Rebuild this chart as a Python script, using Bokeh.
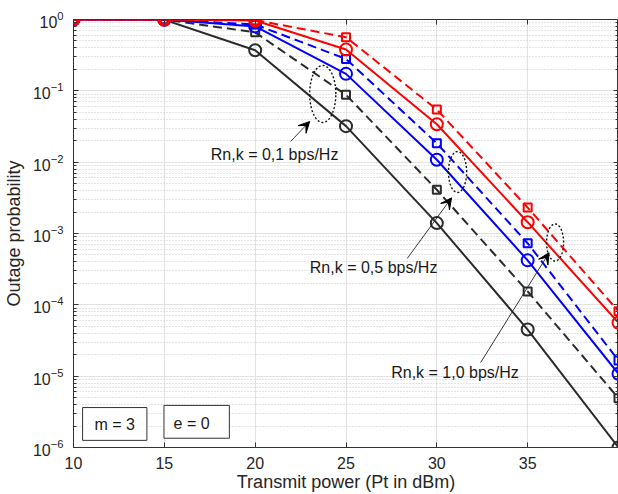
import numpy as np
from bokeh.plotting import figure
from bokeh.models import (Range1d, LinearAxis, LogAxis, FixedTicker, Arrow, VeeHead,
                          CustomJSTickFormatter)
from bokeh.embed import file_html
from bokeh.resources import INLINE
from bokeh.core.properties import value

# ---------------- data ----------------
power_dbm = [10, 15, 20, 25, 30, 35, 40]

# Rn,k = 0.1 bps/Hz (red)
red_circle = [1.0, 1.0, 0.97, 0.38, 0.034, 1.44e-3, 5.6e-5]
red_square = [1.0, 1.0, 0.98, 0.565, 0.0547, 2.31e-3, 8.1e-5]
# Rn,k = 0.5 bps/Hz (blue)
blue_circle = [1.0, 1.0, 0.80, 0.173, 0.0108, 4.2e-4, 1.08e-5]
blue_square = [1.0, 1.0, 0.85, 0.28, 0.0184, 7.3e-4, 1.66e-5]
# Rn,k = 1.0 bps/Hz (black)
black_circle = [1.0, 0.99, 0.37, 0.032, 1.4e-3, 4.5e-5, 1.0e-6]
black_square = [1.0, 1.0, 0.66, 0.088, 4.1e-3, 1.54e-4, 4.9e-6]

x_ticks = [10, 15, 20, 25, 30, 35, 40]
y_ticks = [1e-6, 1e-5, 1e-4, 1e-3, 1e-2, 1e-1, 1e0]
y_minor = [k * 10.0 ** e for e in range(-6, 0) for k in range(2, 10)]

annot_texts = ["Rn,k = 0,1 bps/Hz", "Rn,k = 0,5 bps/Hz", "Rn,k = 1,0 bps/Hz"]
box_texts = ["m = 3", "e = 0"]

FONT = "Liberation Sans"
AX = "#333333"
RED, BLUE, BLACK = "#ff0000", "#0000ff", "#2b2b2b"

p = figure(width=618, height=494,
           x_range=Range1d(10, 40), y_range=Range1d(1e-6, 1),
           y_axis_type="log", output_backend="svg", toolbar_location=None,
           min_border_left=71, min_border_top=19, min_border_right=0,
           min_border_bottom=0, background_fill_color="white",
           border_fill_color="white")

p.outline_line_color = AX
p.outline_line_width = 1

# axes
p.xaxis.ticker = FixedTicker(ticks=x_ticks)
p.xaxis.major_label_overrides = {40: ""}
p.yaxis.ticker = FixedTicker(ticks=y_ticks, minor_ticks=y_minor)
for ax in (p.xaxis[0], p.yaxis[0]):
    ax.axis_line_color = AX
    ax.major_tick_line_color = AX
    ax.minor_tick_line_color = AX
    ax.major_tick_in = 5
    ax.major_tick_out = 0
    ax.minor_tick_in = 3
    ax.minor_tick_out = 0
    ax.major_label_text_font = FONT
    ax.major_label_text_font_size = "16px"
    ax.major_label_text_color = "#262626"
    ax.axis_label_text_font = FONT
    ax.axis_label_text_font_size = "18px"
    ax.axis_label_text_font_style = "normal"
    ax.axis_label_text_color = "#262626"
p.xaxis.minor_tick_line_color = None
p.xaxis.axis_label = "Transmit power (Pt in dBm)"
p.yaxis.axis_label = "Outage probability"
p.xaxis.major_label_standoff = 9
p.xaxis.axis_label_standoff = 0
p.yaxis.major_label_standoff = 10
p.yaxis.axis_label_standoff = 6

top = LinearAxis(ticker=FixedTicker(ticks=x_ticks), formatter=CustomJSTickFormatter(code="return '';"),
                 major_label_standoff=0, major_tick_in=5, major_tick_out=0,
                 minor_tick_line_color=None, axis_line_color=AX, major_tick_line_color=AX)
right = LogAxis(ticker=FixedTicker(ticks=y_ticks, minor_ticks=y_minor),
                formatter=CustomJSTickFormatter(code="return '';"), major_label_standoff=0,
                major_tick_in=5, major_tick_out=0, minor_tick_in=3, minor_tick_out=0,
                axis_line_color=AX, major_tick_line_color=AX, minor_tick_line_color=AX)
p.add_layout(top, "above")
p.add_layout(right, "right")

# grids
p.xgrid.grid_line_color = "#e2e2e2"
p.ygrid.grid_line_color = "#e2e2e2"
p.ygrid.minor_grid_line_color = "#c8c8c8"
p.ygrid.minor_grid_line_dash = "1 2"

# series
series = [
    (black_square, BLACK, "dashed", "square"),
    (black_circle, BLACK, "solid", "circle"),
    (blue_square, BLUE, "dashed", "square"),
    (blue_circle, BLUE, "solid", "circle"),
    (red_square, RED, "dashed", "square"),
    (red_circle, RED, "solid", "circle"),
]
for ys, col, dash, mk in series:
    p.line(power_dbm, ys, line_color=col, line_width=2,
           line_dash="9 5" if dash == "dashed" else "solid")
    if mk == "circle":
        p.scatter(power_dbm, ys, marker="circle", size=12, line_color=col,
                  line_width=2, fill_color=None)
    else:
        p.scatter(power_dbm, ys, marker="square", size=8, line_color=col,
                  line_width=2, fill_color=None)

# dotted ellipses (center x, center log10 y, half-width x, half-height decades)
ellipses = [(23.72, -1.044, 0.72, 0.40),
            (31.14, -2.138, 0.50, 0.287),
            (36.51, -3.126, 0.47, 0.26)]
t = np.linspace(0, 2 * np.pi, 100)
for cx, cy, a, b in ellipses:
    p.line(cx + a * np.cos(t), 10 ** (cy + b * np.sin(t)), line_color="#111111",
           line_width=1.4, line_dash="2 2")

# arrows (x_start, log y_start, x_end, log y_end)
arrows = [(21.95, -1.71, 23.0, -1.43),
          (28.37, -3.35, 30.81, -2.50),
          (32.41, -4.81, 36.18, -3.27)]
for xs, ys0, xe, ye in arrows:
    p.add_layout(Arrow(end=VeeHead(size=11, fill_color="black", line_color="black",
                                   line_width=1),
                       x_start=xs, y_start=10 ** ys0, x_end=xe, y_end=10 ** ye,
                       line_color="#222222", line_width=0.9))

# annotation texts
tx = [21.07, 26.52, 31.0]
ty = [10 ** -1.893, 10 ** -3.477, 10 ** -4.949]
p.text(x=tx, y=ty, text=annot_texts, text_font=value(FONT), text_font_size="16px",
       text_align="center", text_baseline="middle", text_color="#1a1a1a")

# parameter boxes
p.quad(left=[10.50, 14.98], right=[14.04, 18.58],
       bottom=[10 ** -5.90, 10 ** -5.87], top=[10 ** -5.44, 10 ** -5.41],
       fill_color="white", line_color="#333333", line_width=1)
p.text(x=[12.27, 16.50], y=[10 ** -5.68, 10 ** -5.66], text=box_texts,
       text_font=value(FONT), text_font_size="16px", text_align="center",
       text_baseline="middle", text_color="#1a1a1a")

open("out.html", "w").write(file_html(p, INLINE))
